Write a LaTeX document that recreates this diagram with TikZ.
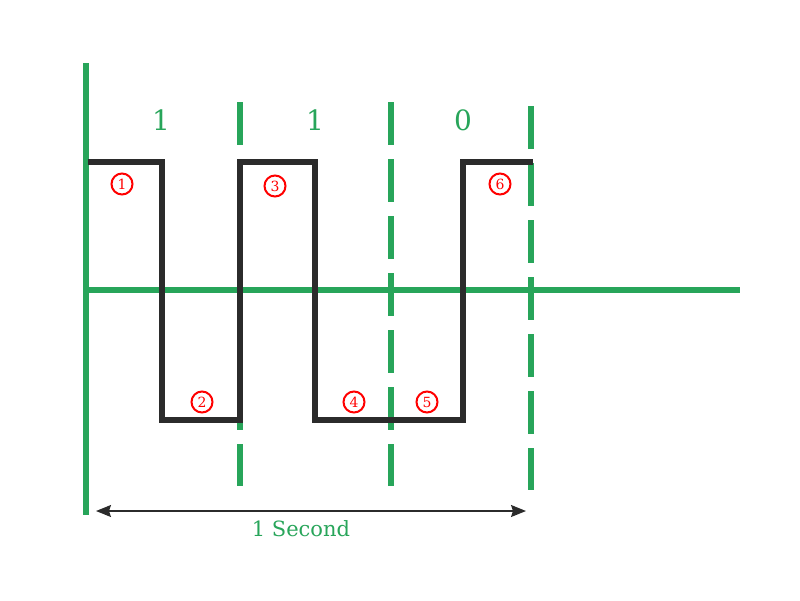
\documentclass[tikz,border=0pt]{standalone}
\usepackage{fontspec}
\setmainfont{DejaVu Serif}
\usepackage{tikz}
\usetikzlibrary{arrows.meta}
\definecolor{sig}{RGB}{40,165,90}
\definecolor{ink}{RGB}{43,43,43}
\tikzset{axis/.style = {draw = sig, line width = 6pt}}
\tikzset{clock/.style = {draw = sig, line width = 6pt, dash pattern = on 43pt off 14pt}}
\tikzset{wave/.style = {draw = ink, line width = 6pt, line join = miter}}
\tikzset{span/.style = {draw = ink, line width = 1.5pt,
                        {Stealth[length = 15pt, width = 12pt, inset = 2pt]}-{Stealth[length = 15pt, width = 12pt, inset = 2pt]}}}
\tikzset{num/.style = {draw = red, circle, line width = 2pt, inner sep = 0, minimum size = 21pt,
                       text = red, font = \fontsize{14}{14}\selectfont}}
\tikzset{bit/.style = {text = sig, font = \fontsize{28}{28}\selectfont}}

\begin{document}
\begin{tikzpicture}[x = 1pt, y = -1pt]
    \useasboundingbox (0, 0) rectangle (800, 600);

    \coordinate (top) at (86, 63);
    \coordinate (bot) at (86, 515);
    \coordinate (o) at (86, 290);
    \coordinate (end) at (740, 290);

    \draw [clock] (240, 102) -- (240, 486);
    \draw [clock] (391, 102) -- (391, 486);
    \draw [clock] (531, 106) -- (531, 490);

    \draw [axis] (top) -- (bot);
    \draw [axis] (o) -- (end);

    \draw [wave] (88, 162) -- (162, 162) -- (162, 420) -- (240, 420) -- (240, 162)
                 -- (315, 162) -- (315, 420) -- (463, 420) -- (463, 162) -- (533, 162);

    \node [bit] (b1) at (161, 120) {1};
    \node [bit] (b2) at (315, 120) {1};
    \node [bit] (b3) at (463, 120) {0};

    \node [num] (n1) at (122, 184) {1};
    \node [num] (n2) at (202, 402) {2};
    \node [num] (n3) at (275, 186) {3};
    \node [num] (n4) at (354, 402) {4};
    \node [num] (n5) at (427, 402) {5};
    \node [num] (n6) at (500, 184) {6};

    \coordinate (s0) at (96, 511);
    \coordinate (s1) at (526, 511);
    \draw [span] (s0) -- (s1);
    \node [bit, font = \fontsize{21}{21}\selectfont] (sec) at (301, 529) {1 Second};
\end{tikzpicture}
\end{document}
